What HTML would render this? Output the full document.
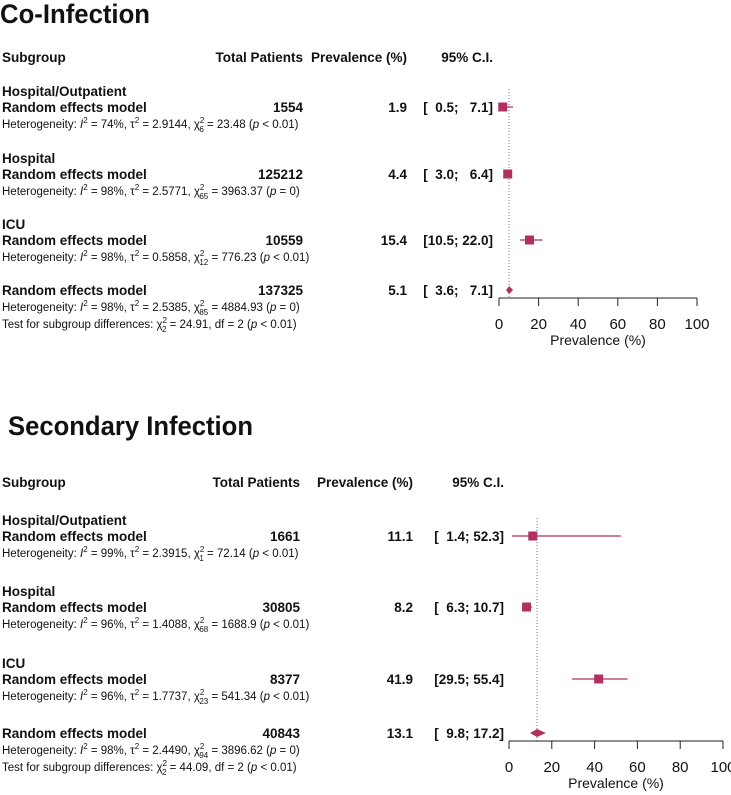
<!DOCTYPE html>
<html><head><meta charset="utf-8"><style>
html,body{margin:0;padding:0;background:#fff}
svg{display:block}
text{font-family:"Liberation Sans Narrow","Liberation Sans",sans-serif;fill:#111}
.b{font-weight:bold;font-size:13.5px}
.s{font-size:11.5px}
.t{font-family:"Liberation Sans",sans-serif;font-weight:bold;font-size:27px}
</style></head><body>
<svg id="chart" width="731" height="795" viewBox="0 0 731 795"></svg>
<script>
// Panel 1: Co-Infection
const coGroups = ["Hospital/Outpatient","Hospital","ICU"];
const coTotals = ["1554","125212","10559"];
const coPrev = [1.9,4.4,15.4];
const coLow = [0.5,3.0,10.5];
const coHigh = [7.1,6.4,22.0];
const coHet = [
 ["74%","2.9144","6","23.48","p < 0.01"],
 ["98%","2.5771","65","3963.37","p = 0"],
 ["98%","0.5858","12","776.23","p < 0.01"]];
const coOverall = {total:"137325", prev:5.1, low:3.6, high:7.1, het:["98%","2.5385","85","4884.93","p = 0"], test:["24.91","2","p < 0.01"]};
// Panel 2: Secondary Infection
const seGroups = ["Hospital/Outpatient","Hospital","ICU"];
const seTotals = ["1661","30805","8377"];
const sePrev = [11.1,8.2,41.9];
const seLow = [1.4,6.3,29.5];
const seHigh = [52.3,10.7,55.4];
const seHet = [
 ["99%","2.3915","1","72.14","p < 0.01"],
 ["96%","1.4088","68","1688.9","p < 0.01"],
 ["96%","1.7737","23","541.34","p < 0.01"]];
const seOverall = {total:"40843", prev:13.1, low:9.8, high:17.2, het:["98%","2.4490","94","3896.62","p = 0"], test:["44.09","2","p < 0.01"]};
const ticks = [0,20,40,60,80,100];

const NS="http://www.w3.org/2000/svg";
const svg=document.getElementById('chart');
const COL="#b0305e";
function el(tag,attrs,parent,txt){const e=document.createElementNS(NS,tag);for(const k in attrs)e.setAttribute(k,attrs[k]);if(txt!==undefined)e.textContent=txt;(parent||svg).appendChild(e);return e;}
function txt(x,y,s,cls,anchor,name){const t=el('text',{x:x,y:y,'class':cls,'text-anchor':anchor||'start'},null,s);


return t;}
function het(x,y,h,name){
 const t=el('text',{x:x,y:y,'class':'s'});
 
 
 t.innerHTML='Heterogeneity: <tspan font-style="italic">I</tspan><tspan dy="-5" font-size="8">2</tspan><tspan dy="5"> = '+h[0]+', τ</tspan><tspan dy="-5" font-size="8">2</tspan><tspan dy="5"> = '+h[1]+', χ</tspan><tspan dy="-5" font-size="8">2</tspan><tspan dx="-5" dy="9" font-size="8">'+h[2]+'</tspan><tspan dy="-4"> = '+h[3]+' (</tspan><tspan font-style="italic">p</tspan><tspan>'+h[4].slice(1)+')</tspan>';
}
function testline(x,y,tt,name){
 const t=el('text',{x:x,y:y,'class':'s'});
 
 
 t.innerHTML='Test for subgroup differences: χ<tspan dy="-5" font-size="8">2</tspan><tspan dx="-5" dy="9" font-size="8">2</tspan><tspan dy="-4"> = '+tt[0]+', df = '+tt[1]+' (</tspan><tspan font-style="italic">p</tspan><tspan>'+tt[2].slice(1)+')</tspan>';
}
function fmt(v){return v.toFixed(1);}
function ci(l,h){const a=fmt(l),b=fmt(h);return '['+(a.length<4?'\u2007':'')+a+'; '+(b.length<4?'\u2007':'')+b+']';}

function panel(o){
 const xs=v=>o.x0+(o.x100-o.x0)*v/100;
 const tt=txt(o.titleX,o.titleY,o.title,'t','start','panel-title');
 tt.setAttribute('textLength',o.titleW);
 tt.setAttribute('lengthAdjust','spacingAndGlyphs');
 txt(2,o.hy,'Subgroup','b','start','subgroup-header');
 txt(o.totR,o.hy,'Total Patients','b','end','total-patients-header');
 txt(o.prevR,o.hy,'Prevalence (%)','b','end','prevalence-header');
 txt(o.ciR,o.hy,'95% C.I.','b','end','ci-header');
 const ref=el('line',{x1:xs(o.ov.prev),x2:xs(o.ov.prev),y1:o.rows[0]-18,y2:o.axisY,stroke:'#777','stroke-dasharray':'1,2','stroke-width':1});
 
 
 o.groups.forEach((g,i)=>{
  const c=o.rows[i];
  txt(2,c-11,g,'b','start','subgroup-label');
  txt(2,c+5,'Random effects model','b','start','model-label');
  txt(o.totR,c+5,o.totals[i],'b','end','total-patients-value');
  txt(o.prevR,c+5,fmt(o.prev[i]),'b','end','prevalence-value');
  txt(o.ciR,c+5,ci(o.low[i],o.high[i]),'b','end','ci-value');
  het(2,c+21,o.het[i],'heterogeneity-text');
  const ln=el('line',{x1:xs(o.low[i]),x2:xs(o.high[i]),y1:c,y2:c,stroke:COL,'stroke-width':1.2});
  
  
  const s=9;
  const r=el('rect',{x:xs(o.prev[i])-s/2,y:c-s/2,width:s,height:s,fill:COL});
  
  
 });
 const c=o.ovY;
 txt(2,c+5,'Random effects model','b','start','overall-model-label');
 txt(o.totR,c+5,o.ov.total,'b','end','overall-total-value');
 txt(o.prevR,c+5,fmt(o.ov.prev),'b','end','overall-prevalence-value');
 txt(o.ciR,c+5,ci(o.ov.low,o.ov.high),'b','end','overall-ci-value');
 het(2,c+21,o.ov.het,'overall-heterogeneity-text');
 testline(2,c+38,o.ov.test,'subgroup-test-text');
 const d=el('polygon',{points:`${xs(o.ov.low)},${c} ${xs(o.ov.prev)},${c-4} ${xs(o.ov.high)},${c} ${xs(o.ov.prev)},${c+4}`,fill:COL});
 
 
 const ax=el('line',{x1:xs(0),x2:xs(100),y1:o.axisY,y2:o.axisY,stroke:'#222','stroke-width':1});
 
 
 ticks.forEach(t=>{
  const tk=el('line',{x1:xs(t),x2:xs(t),y1:o.axisY,y2:o.axisY+8,stroke:'#222','stroke-width':1});
  
  
  const lb=el('text',{x:xs(t),y:o.axisY+31,'text-anchor':'middle','font-size':'15px'},null,String(t));
  
  
 });
 txt((xs(0)+xs(100))/2,o.axisY+47,'Prevalence (%)','','middle','x-axis-title').setAttribute('font-size','14px');
}
panel({title:'Co-Infection',titleX:0,titleY:23,titleW:150,hy:62,totR:303,prevR:407,ciR:493,x0:499,x100:697,
 groups:coGroups,totals:coTotals,prev:coPrev,low:coLow,high:coHigh,het:coHet,ov:coOverall,
 rows:[107,174,240],ovY:290,axisY:298});
panel({title:'Secondary Infection',titleX:8,titleY:435,titleW:245,hy:487,totR:300,prevR:413,ciR:504,x0:509,x100:723,
 groups:seGroups,totals:seTotals,prev:sePrev,low:seLow,high:seHigh,het:seHet,ov:seOverall,
 rows:[536,607,679],ovY:733,axisY:741});
</script>
</body></html>
